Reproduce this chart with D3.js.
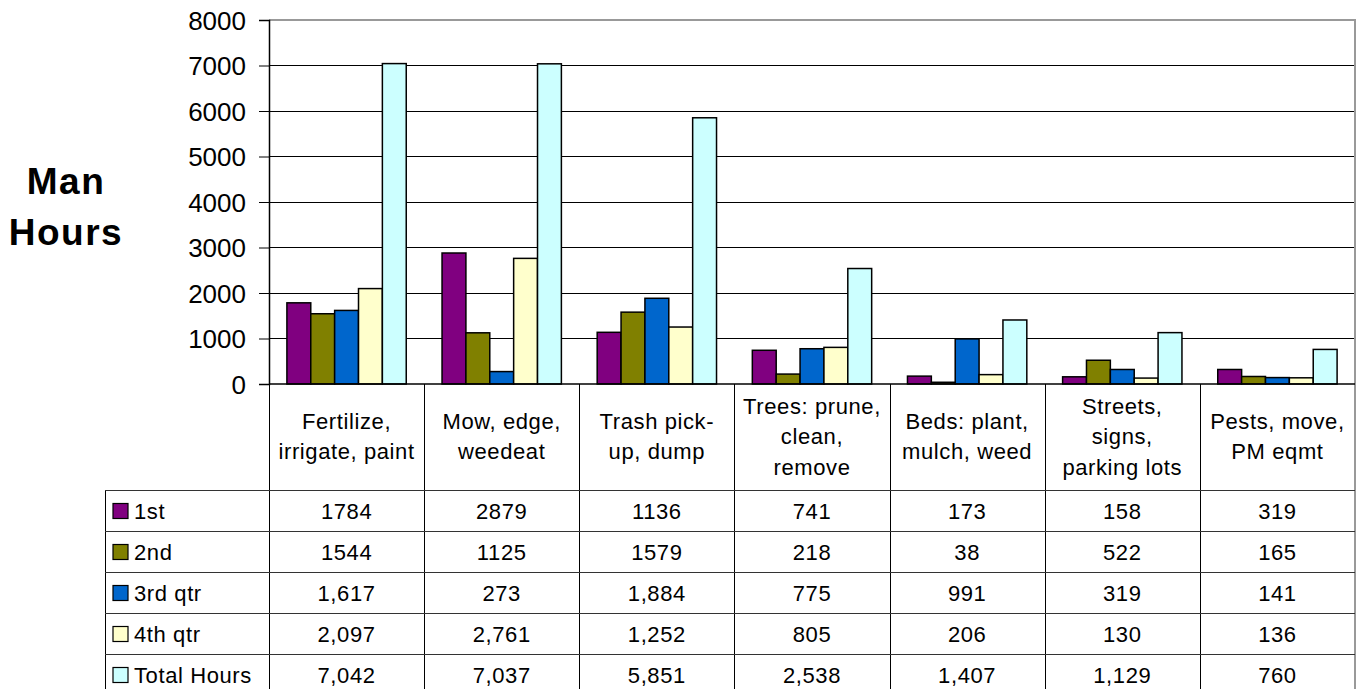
<!DOCTYPE html>
<html>
<head>
<meta charset="utf-8">
<script src="https://cdn.jsdelivr.net/npm/d3@7"></script>
<style>
  html, body { margin: 0; padding: 0; background: #fff; }
  svg { display: block; font-family: "Liberation Sans", Arial, sans-serif; }
</style>
</head>
<body>
<svg id="chart" width="1358" height="689"></svg>
<script>
// Task categories (line breaks as shown in the category row)
const categories = [
  ["Fertilize,", "irrigate, paint"],
  ["Mow, edge,", "weedeat"],
  ["Trash pick-", "up, dump"],
  ["Trees: prune,", "clean,", "remove"],
  ["Beds: plant,", "mulch, weed"],
  ["Streets,", "signs,", "parking lots"],
  ["Pests, move,", "PM eqmt"]
];

const seriesNames = ["1st", "2nd", "3rd qtr", "4th qtr", "Total Hours"];
const seriesColors = ["#800080", "#808000", "#0066CC", "#FFFFCC", "#CCFFFF"];
const useThousands = [false, false, true, true, true];

const q1 = [1784, 2879, 1136, 741, 173, 158, 319];
const q2 = [1544, 1125, 1579, 218, 38, 522, 165];
const q3 = [1617, 273, 1884, 775, 991, 319, 141];
const q4 = [2097, 2761, 1252, 805, 206, 130, 136];
const totals = [7042, 7037, 5851, 2538, 1407, 1129, 760];

const yTicks = [0, 1000, 2000, 3000, 4000, 5000, 6000, 7000, 8000];

const seriesValues = [q1, q2, q3, q4, totals];

// Layout
const plotLeft = 269, plotRight = 1355, plotTop = 20, plotBottom = 384;
const tableLeft = 105, catRowBottom = 490, rowH = 41;
const fontMain = 22;

const svg = d3.select("#chart");

const x0 = d3.scaleBand()
  .domain(d3.range(categories.length))
  .range([plotLeft, plotRight])
  .paddingInner(0).paddingOuter(0);

const x1 = d3.scaleBand()
  .domain(d3.range(seriesNames.length))
  .range([0, x0.bandwidth()])
  .paddingInner(0).paddingOuter(0.75);

const y = d3.scaleLinear().domain([0, 8000]).range([plotBottom, plotTop]);

// Gridlines
svg.append("g").selectAll("line")
  .data(yTicks.filter(t => t > 0 && t < 8000))
  .join("line")
  .attr("x1", plotLeft).attr("x2", plotRight)
  .attr("y1", d => y(d)).attr("y2", d => y(d))
  .attr("stroke", "#000").attr("stroke-width", 1)
  .attr("shape-rendering", "crispEdges");

// Plot frame (top and right in gray)
svg.append("line")
  .attr("x1", plotLeft).attr("x2", plotRight + 1)
  .attr("y1", plotTop).attr("y2", plotTop)
  .attr("stroke", "#999").attr("stroke-width", 2);
svg.append("line")
  .attr("x1", plotRight).attr("x2", plotRight)
  .attr("y1", plotTop).attr("y2", 689)
  .attr("stroke", "#999").attr("stroke-width", 2);

// Bars
const groups = svg.append("g").selectAll("g")
  .data(categories.map((c, i) => i))
  .join("g")
  .attr("transform", i => `translate(${x0(i)},0)`);

groups.selectAll("rect")
  .data(i => seriesValues.map((vals, s) => ({ s, v: vals[i] })))
  .join("rect")
  .attr("x", d => x1(d.s))
  .attr("width", x1.bandwidth())
  .attr("y", d => y(d.v))
  .attr("height", d => y(0) - y(d.v))
  .attr("fill", d => seriesColors[d.s])
  .attr("stroke", "#000")
  .attr("stroke-width", 1.5);

// Y axis
const yAxis = d3.axisLeft(y)
  .tickValues(yTicks)
  .tickFormat(d3.format("d"))
  .tickSize(10).tickPadding(13);
const ya = svg.append("g")
  .attr("transform", `translate(${plotLeft},0)`)
  .call(yAxis);
ya.select(".domain").attr("stroke", "#000").attr("stroke-width", 1.5);
ya.selectAll(".tick line").attr("stroke", "#000");
ya.selectAll(".tick text")
  .attr("font-size", 26)
  .attr("font-family", "Liberation Sans, Arial, sans-serif")
  .attr("fill", "#000")
  .attr("dy", "0.36em");

// Axis title
const title = svg.append("g")
  .attr("font-size", 37).attr("font-weight", "bold")
  .attr("letter-spacing", 1.5)
  .attr("text-anchor", "middle");
title.append("text").attr("x", 66).attr("y", 194).text("Man");
title.append("text").attr("x", 66).attr("y", 245).text("Hours");

// Baseline of the plot
svg.append("line")
  .attr("x1", plotLeft).attr("x2", plotRight)
  .attr("y1", plotBottom).attr("y2", plotBottom)
  .attr("stroke", "#000").attr("stroke-width", 1.5);

// Data table grid
const tableBottom = catRowBottom + rowH * seriesNames.length;
const grid = svg.append("g").attr("stroke", "#000").attr("stroke-width", 1)
  .attr("shape-rendering", "crispEdges");

// Column dividers
grid.selectAll("line.col")
  .data(d3.range(categories.length))
  .join("line")
  .attr("class", "col")
  .attr("x1", i => Math.round(x0(i)) + 0.5).attr("x2", i => Math.round(x0(i)) + 0.5)
  .attr("y1", plotBottom).attr("y2", tableBottom);

// Left edge of the legend column
grid.append("line")
  .attr("x1", tableLeft + 0.5).attr("x2", tableLeft + 0.5)
  .attr("y1", catRowBottom).attr("y2", tableBottom);

// Row lines
grid.selectAll("line.row")
  .data(d3.range(seriesNames.length + 1))
  .join("line")
  .attr("class", "row")
  .attr("x1", tableLeft).attr("x2", plotRight)
  .attr("y1", r => catRowBottom + r * rowH + 0.5)
  .attr("y2", r => catRowBottom + r * rowH + 0.5)
  .attr("stroke", "#333");

// Category labels
const catMid = (plotBottom + catRowBottom) / 2 + 7;
const lineH = 30.5;
svg.append("g").selectAll("text")
  .data(categories.map((lines, i) => ({ lines, i })))
  .join("text")
  .attr("text-anchor", "middle")
  .attr("font-size", fontMain)
  .attr("letter-spacing", 0.6)
  .each(function (d) {
    const t = d3.select(this);
    const n = d.lines.length;
    d.lines.forEach((ln, k) => {
      t.append("tspan")
        .attr("x", x0(d.i) + x0.bandwidth() / 2)
        .attr("y", catMid + (k - (n - 1) / 2) * lineH)
        .text(ln);
    });
  });

// Legend column
const rows = svg.append("g").selectAll("g")
  .data(seriesNames.map((name, s) => ({ name, s })))
  .join("g")
  .attr("transform", d => `translate(0,${catRowBottom + d.s * rowH})`);

rows.append("rect")
  .attr("x", 113).attr("y", rowH / 2 - 8 + 1)
  .attr("width", 15).attr("height", 15)
  .attr("fill", d => seriesColors[d.s])
  .attr("stroke", "#000").attr("stroke-width", 1.2);

rows.append("text")
  .attr("x", 134).attr("y", rowH / 2 + 8.5)
  .attr("font-size", fontMain)
  .attr("letter-spacing", 0.6)
  .text(d => d.name);

// Table values
const fmtComma = d3.format(",");
rows.selectAll("text.val")
  .data(d => seriesValues[d.s].map((v, i) => ({ v, i, s: d.s })))
  .join("text")
  .attr("class", "val")
  .attr("x", d => x0(d.i) + x0.bandwidth() / 2)
  .attr("y", rowH / 2 + 8.5)
  .attr("text-anchor", "middle")
  .attr("font-size", fontMain)
  .attr("letter-spacing", 0.6)
  .text(d => useThousands[d.s] ? fmtComma(d.v) : String(d.v));
</script>
</body>
</html>
